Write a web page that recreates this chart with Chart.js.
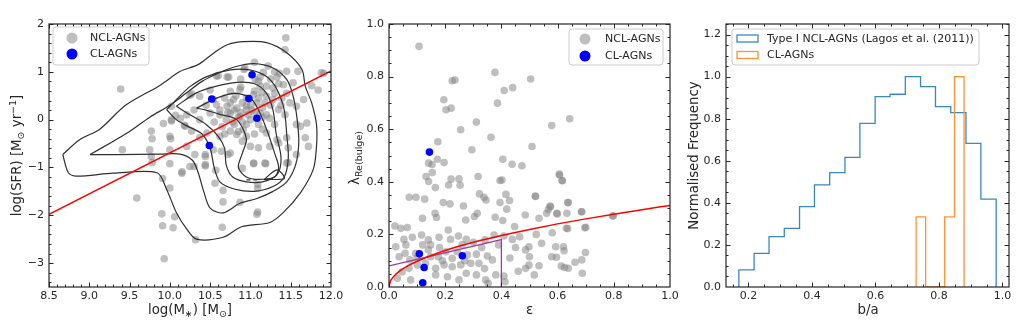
<!DOCTYPE html>
<html>
<head>
<meta charset="utf-8">
<script src="https://cdn.jsdelivr.net/npm/chart.js@4.4.0/dist/chart.umd.min.js"></script>
<style>
  body { margin: 0; background: #fff; width: 1024px; height: 329px; overflow: hidden; position: relative; }
  canvas { position: absolute; top: 0; }
</style>
</head>
<body>
<canvas id="sfrChart" width="360" height="329" style="left:0"></canvas>
<canvas id="lamChart" width="340" height="329" style="left:340px"></canvas>
<canvas id="baChart" width="344" height="329" style="left:680px"></canvas>
<script>
Chart.defaults.font.family = '"DejaVu Sans", sans-serif';
const INK = '#262626';
const GREY = 'rgba(128,128,128,0.5)';
const BLUE = '#0000ff';

// ---------- panel 1: log(M*) vs log(SFR)
const massTicks = [8.5, 9.0, 9.5, 10.0, 10.5, 11.0, 11.5, 12.0];
const sfrTicks = [-3, -2, -1, 0, 1, 2];
const nclMassSfr = [
  [9.39,0.64],[11.44,1.71],[11.43,1.46],[11.59,1.01],[11.88,0.98],[11.76,0.71],[11.84,0.62],[11.91,0.97],[11.36,0.97],
  [9.41,-0.63],[10.02,-0.03],[10.07,0.09],[10.18,-0.12],[9.78,-0.40],[10.01,-0.40],[9.75,-0.63],[10.25,0.51],
  [9.59,-1.64],[9.90,-1.97],[10.06,-2.03],[9.91,-2.22],[10.04,-2.26],[9.93,-2.91],[10.0,-0.92],[10.15,-1.09],[9.91,-1.23],
  [10.0,-1.43],[9.78,-0.90],[10.25,-0.98],[10.65,-2.25],[10.32,-2.51],[10.66,-1.72],[10.87,-1.73],[11.08,-1.98],[11.09,-1.93],
  [10.56,-1.33],[10.66,-1.48],[10.57,-1.06],[10.30,-0.98],[10.44,-0.97],[10.90,-1.02],[11.04,-0.92],[11.19,-0.92],[11.47,-0.90],
  [11.09,-1.35],[11.09,-1.44],[10.92,1.05],[10.58,0.91],[10.73,0.89],[10.88,0.68],[11.12,0.89],
  [10.60,0.92],[10.71,0.89],[10.93,1.08],[11.06,0.84],[11.16,0.99],[11.33,0.89],[11.45,1.01],[11.12,0.70],[11.28,0.66],
  [11.41,0.73],[11.53,0.77],[10.27,0.54],[10.37,0.49],[10.54,0.42],[10.75,0.59],[10.79,0.42],[10.87,0.63],[11.04,0.52],
  [11.14,0.57],[11.20,0.49],[11.28,0.42],[11.39,0.45],[11.49,0.35],[11.57,0.28],[11.66,0.42],[10.58,0.31],[10.71,0.28],
  [10.83,0.24],[10.95,0.29],[11.08,0.35],[10.02,0.28],[10.13,0.03],[10.21,0.10],[10.37,0.0],[10.50,0.14],[10.62,0.10],
  [10.75,0.14],[10.87,0.07],[10.97,0.10],[11.12,0.14],[11.24,0.03],[11.35,0.21],[11.43,0.10],[11.57,-0.10],[11.70,-0.07],
  [10.02,0.0],[9.92,-0.08],[9.77,-0.24],[10.0,-0.35],[10.19,-0.14],[10.27,-0.24],[10.37,-0.38],[10.46,-0.28],[10.62,-0.35],
  [10.75,-0.24],[10.83,-0.31],[10.91,-0.21],[10.95,-0.35],[11.20,-0.28],[11.33,-0.42],[11.45,-0.38],[11.62,-0.14],[11.68,-0.38],
  [9.77,-0.77],[10.0,-0.63],[10.21,-0.56],[10.31,-0.73],[10.44,-0.77],[10.54,-0.63],[10.64,-0.66],[10.75,-0.70],[11.0,-0.56],
  [11.10,-0.59],[11.24,-0.56],[11.35,-0.49],[11.47,-0.59],[11.57,-0.73],[11.72,-0.56],[10.44,-0.94],[11.04,-0.91],[11.18,-0.91],
  [11.45,-0.91],[10.15,-1.12],[10.44,-0.73],[10.72,-0.73],
  [10.85,0.05],[10.9,-0.05],[11.0,0.0],[11.05,0.15],[10.95,0.2],[11.15,0.25],[11.2,0.1],[10.8,-0.1],[10.7,0.0],[11.1,-0.1],
  [10.65,-0.15],[10.85,-0.25],[11.25,0.3],[11.3,0.55],[11.2,0.7],[11.1,0.8],[11.25,0.85],[11.35,0.75],[10.95,0.45],[11.05,0.6],
  [10.75,0.35],[10.82,0.5],[10.9,0.35],[11.0,0.3],[11.1,0.45],[11.18,0.35],[10.68,0.45],[10.62,0.2],[10.72,0.15],[10.8,0.2],
  [10.88,0.15],[11.02,0.2],[11.15,0.05],[10.95,-0.1],[10.78,-0.05],[10.68,-0.3],[10.9,-0.45],[11.05,-0.3],[11.15,-0.2],[11.3,-0.1],
  [11.38,0.3],[11.45,0.55],[11.3,1.0],[11.22,1.12],[11.05,1.2],[10.88,0.85],[10.5,0.62],[10.45,0.3],[10.3,0.2],[10.55,-0.05]
];
const clMassSfr = [[11.02,0.94],[10.52,0.43],[10.98,0.44],[11.08,0.03],[10.49,-0.54]];
const sfrRelation = [[8.5,-1.98],[12.0,1.02]];
const contourLevels = [
  [[8.67,-0.73],[8.88,-0.42],[9.13,-0.2],[9.45,0.3],[9.87,0.71],[10.13,1.01],[10.35,1.15],[10.55,1.4],[10.72,1.57],[10.92,1.63],
   [11.2,1.61],[11.45,1.4],[11.64,1.05],[11.68,0.7],[11.76,0.35],[11.82,-0.1],[11.82,-0.56],[11.78,-1.04],[11.62,-1.53],[11.41,-1.94],
   [11.24,-2.15],[10.89,-2.24],[10.66,-2.46],[10.33,-2.5],[10.21,-2.29],[10.08,-1.94],[9.96,-1.46],[9.84,-1.11],[9.3,-1.12],
   [8.84,-1.18],[8.74,-1.11],[8.67,-0.73]],
  [[9.01,-0.73],[9.3,-0.45],[9.5,-0.25],[9.75,0.05],[10.0,0.3],[10.2,0.55],[10.4,0.8],[10.6,0.97],[10.8,1.1],[11.04,1.17],
   [11.28,1.08],[11.45,0.84],[11.53,0.49],[11.58,0.0],[11.6,-0.49],[11.56,-0.95],[11.45,-1.3],[11.28,-1.5],[11.08,-1.65],
   [10.87,-1.75],[10.66,-1.95],[10.5,-1.85],[10.42,-1.5],[10.35,-1.1],[10.28,-0.85],[10.13,-0.72],[9.88,-0.72],[9.34,-0.73],[9.01,-0.73]],
  [[9.96,0.21],[10.1,0.45],[10.25,0.69],[10.46,0.9],[10.75,1.04],[10.99,1.04],[11.2,0.9],[11.33,0.63],[11.42,0.2],[11.45,-0.3],
   [11.47,-0.8],[11.42,-1.2],[11.28,-1.4],[11.05,-1.5],[10.8,-1.45],[10.62,-1.3],[10.55,-1.0],[10.5,-0.6],[10.4,-0.3],[10.2,-0.12],
   [10.08,0.0],[9.96,0.21]],
  [[10.08,0.28],[10.33,0.56],[10.58,0.7],[10.83,0.78],[11.05,0.75],[11.2,0.55],[11.28,0.2],[11.32,-0.3],[11.38,-0.8],[11.33,-1.15],
   [11.15,-1.3],[10.95,-1.3],[10.78,-1.2],[10.7,-0.95],[10.68,-0.6],[10.6,-0.35],[10.45,-0.1],[10.25,0.1],[10.08,0.28]],
  [[10.33,0.24],[10.58,0.45],[10.8,0.55],[11.0,0.45],[11.1,0.2],[11.2,-0.2],[11.3,-0.7],[11.35,-1.0],[11.3,-1.2],[11.1,-1.25],
   [10.95,-1.2],[10.85,-1.0],[10.9,-0.7],[10.95,-0.4],[10.83,0.0],[10.6,0.12],[10.45,0.2],[10.33,0.24]],
  [[11.17,-1.25],[11.33,-1.05],[11.42,-1.23],[11.17,-1.25]]
];
const contourDash = [[10.95,-1.26],[11.08,-1.26]];

// ---------- panel 2: ellipticity vs lambda_Re(bulge)
const unitTicks = [0.0, 0.2, 0.4, 0.6, 0.8, 1.0];
const nclEpsLam = [
  [0.107,0.915],[0.377,0.816],[0.504,0.791],[0.225,0.784],[0.235,0.787],[0.41,0.747],[0.44,0.758],[0.386,0.699],[0.195,0.712],
  [0.203,0.674],[0.221,0.68],[0.643,0.64],[0.579,0.614],[0.311,0.627],[0.255,0.598],[0.363,0.569],[0.174,0.552],[0.295,0.522],
  [0.509,0.534],[0.141,0.471],[0.153,0.466],[0.172,0.486],[0.196,0.473],[0.405,0.486],[0.438,0.467],[0.473,0.461],[0.132,0.42],
  [0.154,0.435],[0.141,0.401],[0.165,0.378],[0.221,0.41],[0.249,0.411],[0.212,0.388],[0.253,0.387],[0.317,0.42],[0.395,0.405],
  [0.402,0.407],[0.606,0.429],[0.616,0.405],[0.072,0.341],[0.096,0.341],[0.127,0.334],[0.193,0.321],[0.217,0.316],[0.265,0.308],
  [0.322,0.354],[0.338,0.341],[0.345,0.331],[0.395,0.321],[0.416,0.352],[0.419,0.296],[0.429,0.329],[0.522,0.344],[0.573,0.308],
  [0.636,0.321],[0.686,0.286],[0.796,0.27],[0.164,0.28],[0.169,0.264],[0.119,0.261],[0.273,0.255],[0.304,0.268],[0.314,0.28],
  [0.378,0.265],[0.405,0.253],[0.447,0.23],[0.485,0.274],[0.534,0.261],[0.561,0.28],[0.597,0.28],[0.633,0.28],[0.636,0.222],[0.7,0.227],
  [0.021,0.232],[0.042,0.223],[0.065,0.226],[0.024,0.153],[0.053,0.181],[0.083,0.189],[0.116,0.198],[0.14,0.179],[0.178,0.189],
  [0.211,0.217],[0.219,0.181],[0.247,0.194],[0.275,0.181],[0.342,0.179],[0.374,0.198],[0.409,0.194],[0.439,0.181],[0.465,0.191],
  [0.486,0.141],[0.486,0.071],[0.036,0.115],[0.057,0.128],[0.074,0.103],[0.095,0.128],[0.14,0.141],[0.148,0.115],[0.176,0.115],
  [0.202,0.134],[0.225,0.109],[0.243,0.134],[0.279,0.122],[0.311,0.125],[0.35,0.118],[0.368,0.103],[0.32,0.09],[0.291,0.09],
  [0.255,0.084],[0.225,0.077],[0.196,0.084],[0.166,0.071],[0.101,0.084],[0.071,0.071],[0.047,0.058],[0.03,0.033],[0.077,0.027],
  [0.166,0.046],[0.208,0.039],[0.249,0.027],[0.275,0.052],[0.311,0.046],[0.344,0.027],[0.353,0.014],[0.38,0.046],[0.409,0.042],
  [0.413,0.02],[0.148,0.16],
  [0.607,0.426],[0.617,0.404],[0.52,0.346],[0.567,0.295],[0.575,0.305],[0.599,0.278],[0.638,0.321],[0.685,0.286],[0.798,0.271],
  [0.524,0.2],[0.581,0.206],[0.631,0.223],[0.697,0.225],[0.543,0.166],[0.498,0.153],[0.593,0.153],[0.621,0.153],[0.623,0.138],
  [0.579,0.115],[0.596,0.113],[0.699,0.131],[0.686,0.103],[0.662,0.094],[0.613,0.08],[0.625,0.074],[0.638,0.071],[0.688,0.052],
  [0.534,0.081],[0.517,0.046],[0.498,0.083],
  [0.12,0.16],[0.18,0.15],[0.26,0.16],[0.3,0.17],[0.33,0.15],[0.1,0.11],[0.13,0.09],[0.19,0.1],[0.27,0.1],[0.34,0.07],
  [0.45,0.15],[0.43,0.11],[0.46,0.06],[0.39,0.16],[0.06,0.16],[0.5,0.115]
];
const clEpsLam = [[0.144,0.513],[0.108,0.126],[0.125,0.074],[0.12,0.016],[0.261,0.119]];
const divideEps = [0, 0.005, 0.01, 0.02, 0.04, 0.07, 0.1, 0.15, 0.2, 0.3, 0.4, 0.5, 0.6, 0.7, 0.8, 0.9, 1.0];
const divideLam = [0, 0.022, 0.031, 0.044, 0.062, 0.082, 0.098, 0.12, 0.139, 0.17, 0.196, 0.219, 0.24, 0.259, 0.277, 0.294, 0.31];
const slowBox = [[0, 0.08], [0.4, 0.18], [0.4, 0]];

// ---------- panel 3: b/a histograms
const baTicks = [0.2, 0.4, 0.6, 0.8, 1.0];
const freqTicks = [0.0, 0.2, 0.4, 0.6, 0.8, 1.0, 1.2];
const nclEdges = [0.17,0.218,0.265,0.313,0.361,0.408,0.456,0.504,0.551,0.599,0.646,0.694,0.742,0.789,0.837,0.885,0.932,0.98];
const nclFreq = [0.081,0.16,0.239,0.279,0.382,0.485,0.544,0.616,0.778,0.905,0.916,1.0,0.952,0.857,0.829,0.683,0.418];
const clEdges = [0.728,0.758,0.788,0.818,0.849,0.879];
const clFreq = [0.333,0,0,0.333,1.0];

const pts = arr => arr.map(([x, y]) => ({x, y}));
const stepPts = (edges, h) => [{x: edges[0], y: 0}, ...h.map((v, i) => ({x: edges[i], y: v})), {x: edges[edges.length - 1], y: 0}];

// matplotlib-like frame with inward ticks on all sides
const frameTicks = {
  id: 'frameTicks',
  afterDatasetsDraw(chart, args, o) {
    const {ctx, chartArea: a} = chart;
    const sx = chart.scales.x, sy = chart.scales.y;
    const minors = (s, step) => {
      const out = [];
      for (let k = Math.ceil(s.min / step - 1e-6); k * step <= s.max + 1e-9; k++) out.push(k * step);
      return out;
    };
    ctx.save();
    ctx.strokeStyle = INK;
    ctx.lineWidth = 1;
    const xt = (vals, len) => vals.forEach(v => {
      const p = Math.round(sx.getPixelForValue(v)) + 0.5;
      if (p < a.left || p > a.right) return;
      ctx.moveTo(p, a.bottom); ctx.lineTo(p, a.bottom - len);
      ctx.moveTo(p, a.top); ctx.lineTo(p, a.top + len);
    });
    const yt = (vals, len) => vals.forEach(v => {
      const p = Math.round(sy.getPixelForValue(v)) + 0.5;
      if (p < a.top || p > a.bottom) return;
      ctx.moveTo(a.left, p); ctx.lineTo(a.left + len, p);
      ctx.moveTo(a.right, p); ctx.lineTo(a.right - len, p);
    });
    ctx.beginPath();
    xt(o.xMajor, 4.5); yt(o.yMajor, 4.5);
    xt(minors(sx, o.xMinor), 2.5); yt(minors(sy, o.yMinor), 2.5);
    ctx.stroke();
    ctx.lineWidth = 1.2;
    ctx.strokeRect(a.left, a.top, a.right - a.left, a.bottom - a.top);
    ctx.restore();
  }
};

const boxLegend = {
  id: 'boxLegend',
  afterDraw(chart, args, o) {
    const ctx = chart.ctx;
    const [x0, y0, x1, y1] = o.box, r = 3;
    ctx.save();
    ctx.beginPath();
    ctx.moveTo(x0 + r, y0); ctx.lineTo(x1 - r, y0); ctx.quadraticCurveTo(x1, y0, x1, y0 + r);
    ctx.lineTo(x1, y1 - r); ctx.quadraticCurveTo(x1, y1, x1 - r, y1);
    ctx.lineTo(x0 + r, y1); ctx.quadraticCurveTo(x0, y1, x0, y1 - r);
    ctx.lineTo(x0, y0 + r); ctx.quadraticCurveTo(x0, y0, x0 + r, y0);
    ctx.fillStyle = 'rgba(255,255,255,0.8)';
    ctx.fill();
    ctx.strokeStyle = '#cccccc';
    ctx.lineWidth = 1;
    ctx.stroke();
    ctx.font = '11px "DejaVu Sans"';
    ctx.textBaseline = 'middle';
    o.items.forEach(it => {
      if (it.kind === 'dot') {
        ctx.beginPath();
        ctx.arc(o.markX, it.y, 5.5, 0, 2 * Math.PI);
        ctx.fillStyle = it.color;
        ctx.fill();
      } else {
        ctx.strokeStyle = it.color;
        ctx.lineWidth = 1.3;
        ctx.strokeRect(o.markX, it.y - 3.5, 21, 7);
      }
      ctx.fillStyle = INK;
      ctx.fillText(it.text, o.textX, it.y + 0.5);
    });
    ctx.restore();
  }
};

// axis titles with sub/superscripts
const axisTitles = {
  id: 'axisTitles',
  afterDraw(chart, args, o) {
    const ctx = chart.ctx;
    o.items.forEach(t => {
      ctx.save();
      ctx.translate(t.x, t.y);
      if (t.rot) ctx.rotate(-Math.PI / 2);
      let total = 0;
      t.segs.forEach(s => {
        ctx.font = (s.size || 13.3) + 'px "DejaVu Sans"';
        s.w = ctx.measureText(s.t).width;
        total += s.w;
      });
      let cx = -total / 2;
      ctx.fillStyle = INK;
      ctx.textBaseline = 'alphabetic';
      t.segs.forEach(s => {
        ctx.font = (s.size || 13.3) + 'px "DejaVu Sans"';
        ctx.fillText(s.t, cx, s.dy || 0);
        cx += s.w;
      });
      ctx.restore();
    });
  }
};

function makeChart(id, datasets, o) {
  return new Chart(document.getElementById(id), {
    type: 'scatter',
    data: {datasets},
    options: {
      responsive: false,
      animation: false,
      devicePixelRatio: 1,
      layout: {padding: {left: 0, right: o.padRight, top: 24, bottom: 0}},
      plugins: {
        legend: {display: false},
        tooltip: {enabled: false},
        frameTicks: o.frame,
        boxLegend: o.legend,
        axisTitles: {items: o.titles}
      },
      scales: {
        x: {
          type: 'linear', min: o.xMin, max: o.xMax,
          grid: {display: false, drawTicks: false, tickLength: 0}, border: {display: false},
          ticks: {font: {size: 11}, color: INK, padding: 3, maxRotation: 0, autoSkip: false, callback: o.xFmt},
          afterBuildTicks: s => { s.ticks = o.frame.xMajor.map(v => ({value: v})); },
          afterFit: s => { s.height = 42; s.paddingLeft = 0; s.paddingRight = 0; }
        },
        y: {
          type: 'linear', min: o.yMin, max: o.yMax,
          grid: {display: false, drawTicks: false, tickLength: 0}, border: {display: false},
          ticks: {font: {size: 11}, color: INK, padding: 5, autoSkip: false, callback: o.yFmt},
          afterBuildTicks: s => { s.ticks = o.frame.yMajor.map(v => ({value: v})); },
          afterFit: s => { s.width = o.left; s.paddingTop = 0; s.paddingBottom = 0; }
        }
      }
    },
    plugins: [frameTicks, boxLegend, axisTitles]
  });
}

const dots = (label, data, color, order) => ({label, data: pts(data), backgroundColor: color, borderWidth: 0, pointRadius: 3.8, order});
const line = (data, color, width, order, extra) => Object.assign({
  type: 'line', data, borderColor: color, borderWidth: width, pointRadius: 0, fill: false, tension: 0, order
}, extra || {});
const fmt1 = v => v.toFixed(1);

// panel 1
makeChart('sfrChart', [
  dots('CL-AGNs', clMassSfr, BLUE, 0),
  line(pts(sfrRelation), '#ff0000', 1.5, 1),
  ...contourLevels.map(c => line(pts(c), '#303030', 1.2, 2, {tension: 0.3})),
  line(pts(contourDash), '#303030', 1.2, 2, {borderDash: [4, 3]}),
  dots('NCL-AGNs', nclMassSfr, GREY, 3)
], {
  left: 49, padRight: 29, xMin: 8.5, xMax: 12.0, yMin: -3.5, yMax: 2,
  xFmt: fmt1, yFmt: v => String(v).replace('-', '\u2212'),
  frame: {xMajor: massTicks, yMajor: sfrTicks, xMinor: 0.1, yMinor: 0.2},
  legend: {box: [53, 27, 149, 65], markX: 72, textX: 90, items: [
    {kind: 'dot', color: GREY, text: 'NCL-AGNs', y: 38},
    {kind: 'dot', color: BLUE, text: 'CL-AGNs', y: 54}
  ]},
  titles: [
    {x: 21, y: 155.5, rot: true, segs: [{t: 'log(SFR) [M'}, {t: '\u2299', size: 9.5, dy: 3}, {t: ' yr'}, {t: '\u22121', size: 9.5, dy: -5}, {t: ']'}]},
    {x: 190, y: 314, segs: [{t: 'log(M'}, {t: '\u2217', size: 9.5, dy: 3}, {t: ') [M'}, {t: '\u2299', size: 9.5, dy: 3}, {t: ']'}]}
  ]
});

// panel 2
makeChart('lamChart', [
  dots('CL-AGNs', clEpsLam, BLUE, 0),
  line(divideEps.map((x, i) => ({x, y: divideLam[i]})), '#ff0000', 1.5, 1, {cubicInterpolationMode: 'monotone'}),
  line(pts(slowBox), '#9a3d9a', 1.3, 2),
  dots('NCL-AGNs', nclEpsLam, GREY, 3)
], {
  left: 49, padRight: 10, xMin: 0, xMax: 1, yMin: 0, yMax: 1,
  xFmt: fmt1, yFmt: fmt1,
  frame: {xMajor: unitTicks, yMajor: unitTicks, xMinor: 0.05, yMinor: 0.05},
  legend: {box: [229, 29, 323, 65], markX: 245, textX: 265, items: [
    {kind: 'dot', color: GREY, text: 'NCL-AGNs', y: 39},
    {kind: 'dot', color: BLUE, text: 'CL-AGNs', y: 56}
  ]},
  titles: [
    {x: 19, y: 158, rot: true, segs: [{t: '\u03bb'}, {t: 'Re(bulge)', size: 9.5, dy: 3}]},
    {x: 189.5, y: 314, segs: [{t: '\u03b5'}]}
  ]
});

// panel 3
makeChart('baChart', [
  line(stepPts(clEdges, clFreq), '#ff9333', 1.3, 0, {stepped: true}),
  line(stepPts(nclEdges, nclFreq), '#3a88c0', 1.3, 1, {stepped: true})
], {
  left: 46, padRight: 15, xMin: 0.1295, xMax: 1.0205, yMin: 0, yMax: 1.25,
  xFmt: fmt1, yFmt: fmt1,
  frame: {xMajor: baTicks, yMajor: freqTicks, xMinor: 0.05, yMinor: 0.05},
  legend: {box: [52, 29, 299, 65], markX: 57, textX: 87, items: [
    {kind: 'rect', color: '#3a88c0', text: 'Type I NCL-AGNs (Lagos et al. (2011))', y: 38.5},
    {kind: 'rect', color: '#ff9333', text: 'CL-AGNs', y: 55}
  ]},
  titles: [
    {x: 18, y: 155.5, rot: true, segs: [{t: 'Normalised Frequency'}]},
    {x: 188, y: 314, segs: [{t: 'b/a'}]}
  ]
});
</script>
</body>
</html>
